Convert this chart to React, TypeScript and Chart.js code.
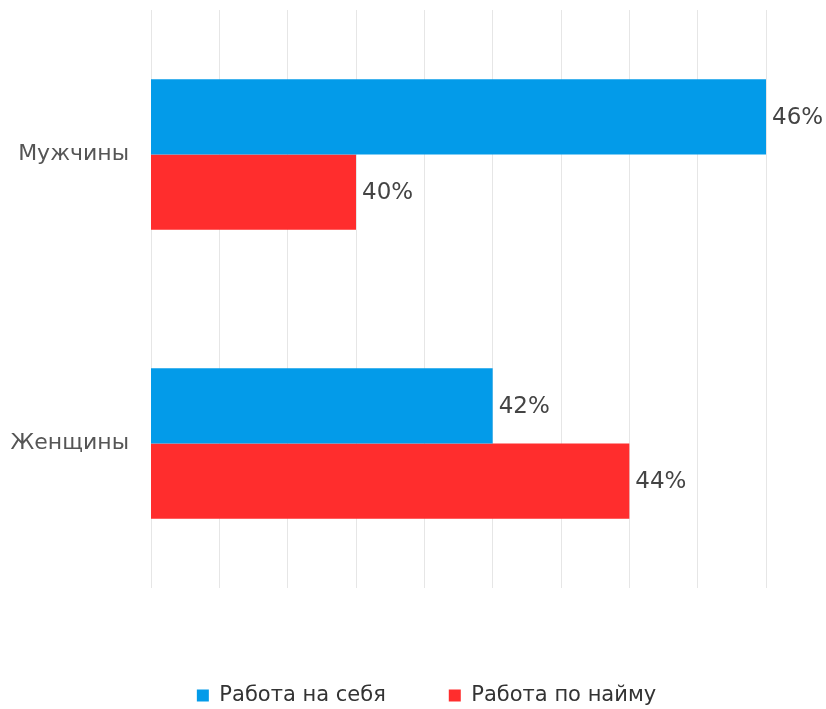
import React, { useEffect, useRef } from "react";
import { Chart, registerables } from "chart.js";

Chart.register(...registerables);

const categories = ["Мужчины", "Женщины"];
const seriesNames = ["Работа на себя", "Работа по найму"];
const selfEmployed = [46, 42];
const employed = [40, 44];
const colors = ["#039BE9", "#FF2D2D"];
const xMin = 37;
const xMax = 46;

const FONT = "'DejaVu Sans', sans-serif";

const valueLabels = {
  id: "valueLabels",
  afterDatasetsDraw(chart: any) {
    const ctx = chart.ctx;
    ctx.save();
    ctx.font = `23px ${FONT}`;
    ctx.fillStyle = "#444444";
    ctx.textAlign = "left";
    ctx.textBaseline = "middle";
    chart.data.datasets.forEach((ds: any, di: number) => {
      const meta = chart.getDatasetMeta(di);
      meta.data.forEach((bar: any, i: number) => {
        ctx.fillText(`${ds.data[i]}%`, bar.x + 6, bar.y + 1);
      });
    });
    ctx.restore();
  },
};

export default function App() {
  const ref = useRef<HTMLCanvasElement>(null);
  useEffect(() => {
    if (!ref.current) return;
    const chart = new Chart(ref.current, {
      type: "bar",
      data: {
        labels: categories,
        datasets: [
          { label: seriesNames[0], data: selfEmployed, backgroundColor: colors[0] },
          { label: seriesNames[1], data: employed, backgroundColor: colors[1] },
        ],
      },
      options: {
        indexAxis: "y",
        animation: false,
        responsive: true,
        maintainAspectRatio: false,
        layout: { padding: { top: 10, right: -27, bottom: -7, left: 0 } },
        datasets: { bar: { categoryPercentage: 0.52, barPercentage: 1 } },
        scales: {
          x: {
            min: xMin,
            max: xMax,
            ticks: { display: false, stepSize: 1 },
            grid: { color: "#e6e6e6", drawTicks: false, lineWidth: 1 },
            border: { display: false },
            afterFit(scale: any) {
              scale.height = 34;
            },
          },
          y: {
            ticks: {
              font: { size: 22, family: FONT },
              color: "#555555",
              padding: 22,
            },
            grid: { display: false, drawTicks: false },
            border: { display: false },
            afterFit(scale: any) {
              scale.width = 151;
              scale.paddingTop = 0;
              scale.paddingBottom = 0;
            },
          },
          yRight: {
            type: "linear",
            position: "right",
            display: true,
            ticks: { display: false },
            grid: { display: false, drawTicks: false },
            border: { display: false },
            afterFit(scale: any) {
              scale.width = 87;
              scale.paddingTop = 0;
              scale.paddingBottom = 0;
            },
          },
        },
        plugins: {
          legend: {
            position: "bottom",
            labels: {
              font: { size: 21, family: FONT },
              color: "#333333",
              boxWidth: 12,
              boxHeight: 12,
              padding: 63,
            },
          },
          tooltip: { enabled: false },
        },
      },
      plugins: [valueLabels],
    });
    return () => chart.destroy();
  }, []);
  return (
    <div style={{ position: "fixed", left: 0, top: 0, width: 826, height: 709 }}>
      <canvas ref={ref} />
    </div>
  );
}
